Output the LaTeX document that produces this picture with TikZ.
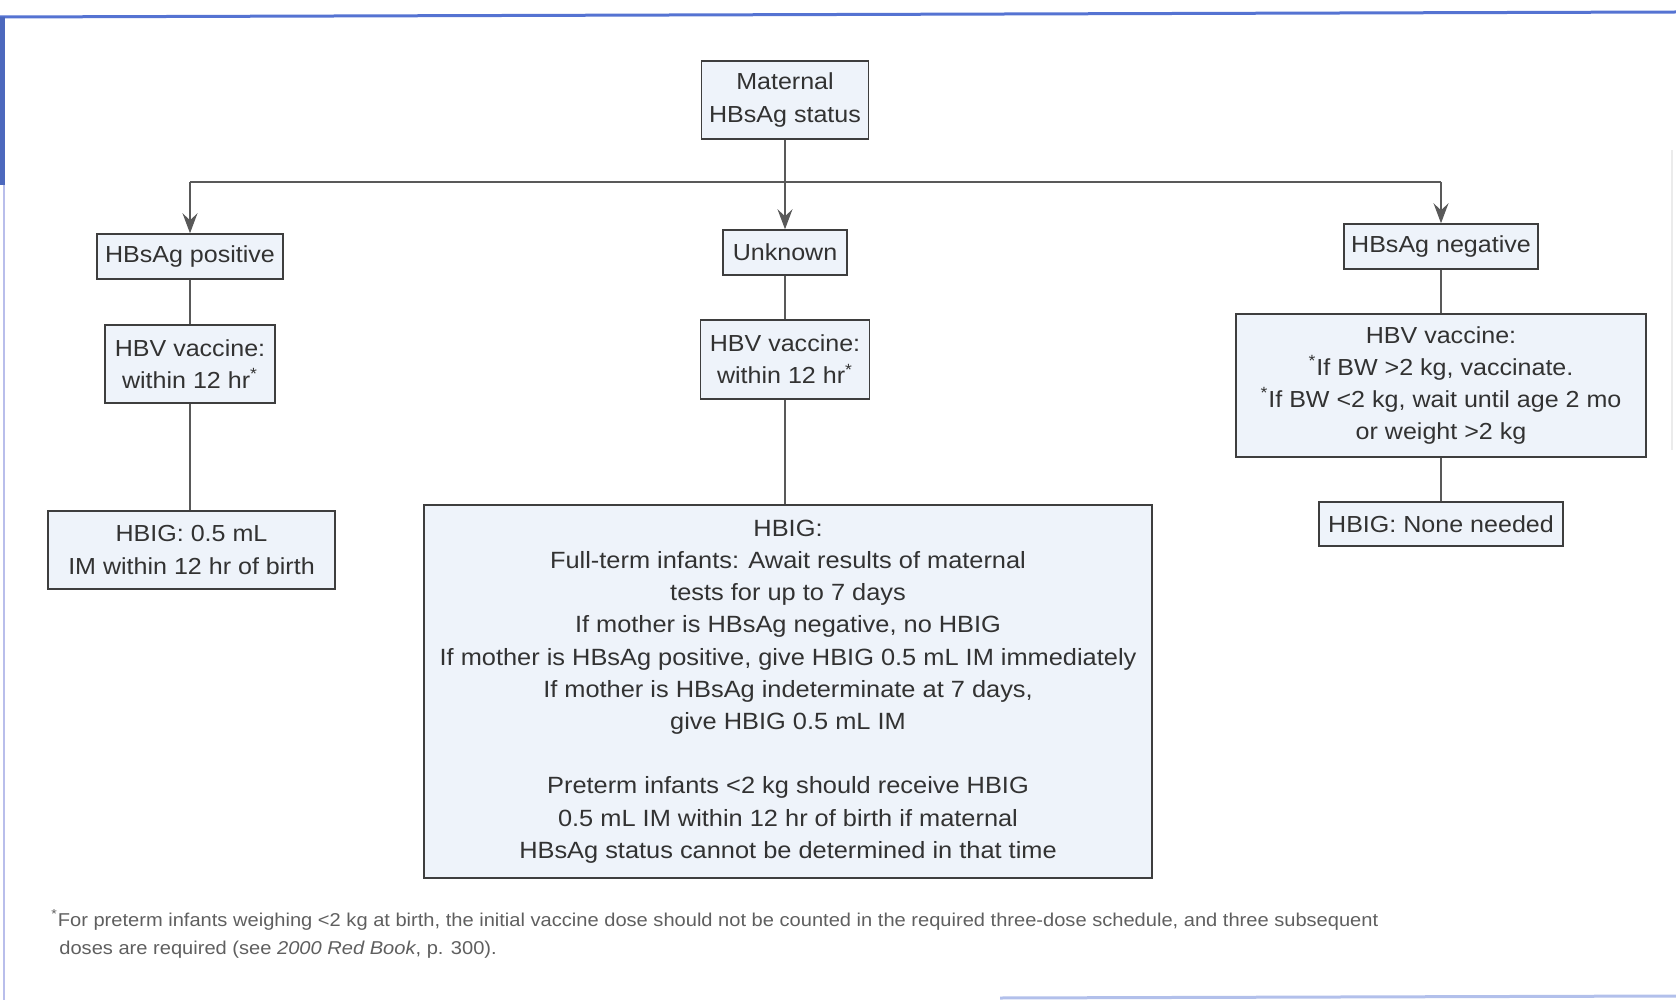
\documentclass[tikz,border=0pt]{standalone}
\usepackage{fontspec}
\setmainfont{Liberation Sans}[FakeStretch=1.08]
\usetikzlibrary{arrows.meta,positioning}
\definecolor{boxfill}{RGB}{238,243,250}
\definecolor{boxline}{RGB}{62,62,62}
\definecolor{ink}{RGB}{50,50,50}
\definecolor{notegray}{RGB}{95,95,95}
\definecolor{rimblue}{RGB}{85,115,210}
\definecolor{rimlight}{RGB}{185,190,235}
\tikzset{
  box/.style = {draw=boxline, fill=boxfill, line width=0.75pt, text=ink,
                align=center, inner sep=0pt,
                font=\fontsize{11.6}{16.1}\selectfont},
  boxsize/.style 2 args = {minimum width=#1*0.5pt, minimum height=#2*0.5pt},
  link/.style = {draw=black!65, line width=0.6pt},
  arrow/.style = {link, -{Stealth[length=10pt,width=7.5pt,inset=3.5pt]}}
}

\begin{document}
\begin{tikzpicture}[x=0.5pt, y=-0.5pt]
	\useasboundingbox (0,0) rectangle (1676,1000);
	\def \cx{785}   % middle column
	\def \split{182} % branch line

	% Page rim
	\draw[rimblue, line width=1.5pt] (0,17) -- (1676,12);
	\draw[rimblue!90!black, line width=2.5pt] (2.5,17) -- (2.5,185);
	\draw[rimlight, line width=1pt] (4,185) -- (4,1000);
	\draw[rimblue!45, line width=1.5pt] (1000,998) -- (1676,996);
	\draw[black!8, line width=0.6pt] (1672,150) -- (1672,450);

	% Root
	\node[box, boxsize={167}{78}] (mat) at (\cx,100) {Maternal\\HBsAg status};

	% Status
	\node[box, boxsize={186}{45}] (pos) at (190,256.5) {HBsAg positive};
	\node[box, boxsize={124}{45}] (unk) at (\cx,252.5) {Unknown};
	\node[box, boxsize={194}{45}] (neg) at (1441,246.5) {HBsAg negative};

	% Vaccine
	\node[box, boxsize={170}{78}] (vpos) at (190,364) {HBV vaccine:\\within 12 hr\textsuperscript{*}};
	\node[box, boxsize={169}{79}] (vunk) at (\cx,359.5) {HBV vaccine:\\within 12 hr\textsuperscript{*}};
	\node[box, boxsize={410}{143}] (vneg) at (1441,385.5)
		{HBV vaccine:\\\textsuperscript{*}If BW >2 kg, vaccinate.\\\textsuperscript{*}If BW <2 kg, wait until age 2 mo\\or weight >2 kg};

	% HBIG
	\node[box, boxsize={287}{78}] (ipos) at (191.5,550) {HBIG: 0.5 mL\\IM within 12 hr of birth};
	\node[box, boxsize={728}{373}, font=\fontsize{11.75}{16.1}\selectfont] (iunk) at (788,691.5)
		{HBIG:\\Full-term infants: Await results of maternal\\tests for up to 7 days\\
		 If mother is HBsAg negative, no HBIG\\
		 If mother is HBsAg positive, give HBIG 0.5 mL IM immediately\\
		 If mother is HBsAg indeterminate at 7 days,\\give HBIG 0.5 mL IM\\[16.1pt]
		 Preterm infants <2 kg should receive HBIG\\0.5 mL IM within 12 hr of birth if maternal\\
		 HBsAg status cannot be determined in that time};
	\node[box, boxsize={244}{44}] (ineg) at (1441,524) {HBIG: None needed};

	% Branches
	\coordinate (mid) at (\cx,\split);
	\coordinate (left) at (pos.north |- mid);
	\coordinate (right) at (neg.north |- mid);
	\draw[link] (mat) -- (mid);
	\draw[link] (left) -- (right);
	\draw[arrow] (left) -- (pos);
	\draw[arrow] (mid) -- (unk);
	\draw[arrow] (right) -- (neg);

	% Columns
	\draw[link] (pos) -- (vpos);
	\draw[link] (vpos) -- (vpos.south |- ipos.north);
	\draw[link] (unk) -- (vunk);
	\draw[link] (vunk) -- (vunk.south |- iunk.north);
	\draw[link] (neg) -- (vneg);
	\draw[link] (vneg) -- (ineg);

	% Footnote
	\node[anchor=west, align=left, inner sep=0pt, text=notegray,
	      font=\fontsize{9.3}{14}\selectfont] (note) at (51,934)
		{\textsuperscript{*}For preterm infants weighing <2 kg at birth, the initial vaccine dose should not be counted in the required three-dose schedule, and three subsequent\\
		 \hspace*{4pt}doses are required (see \textit{2000 Red Book}, p. 300).};
\end{tikzpicture}
\end{document}
